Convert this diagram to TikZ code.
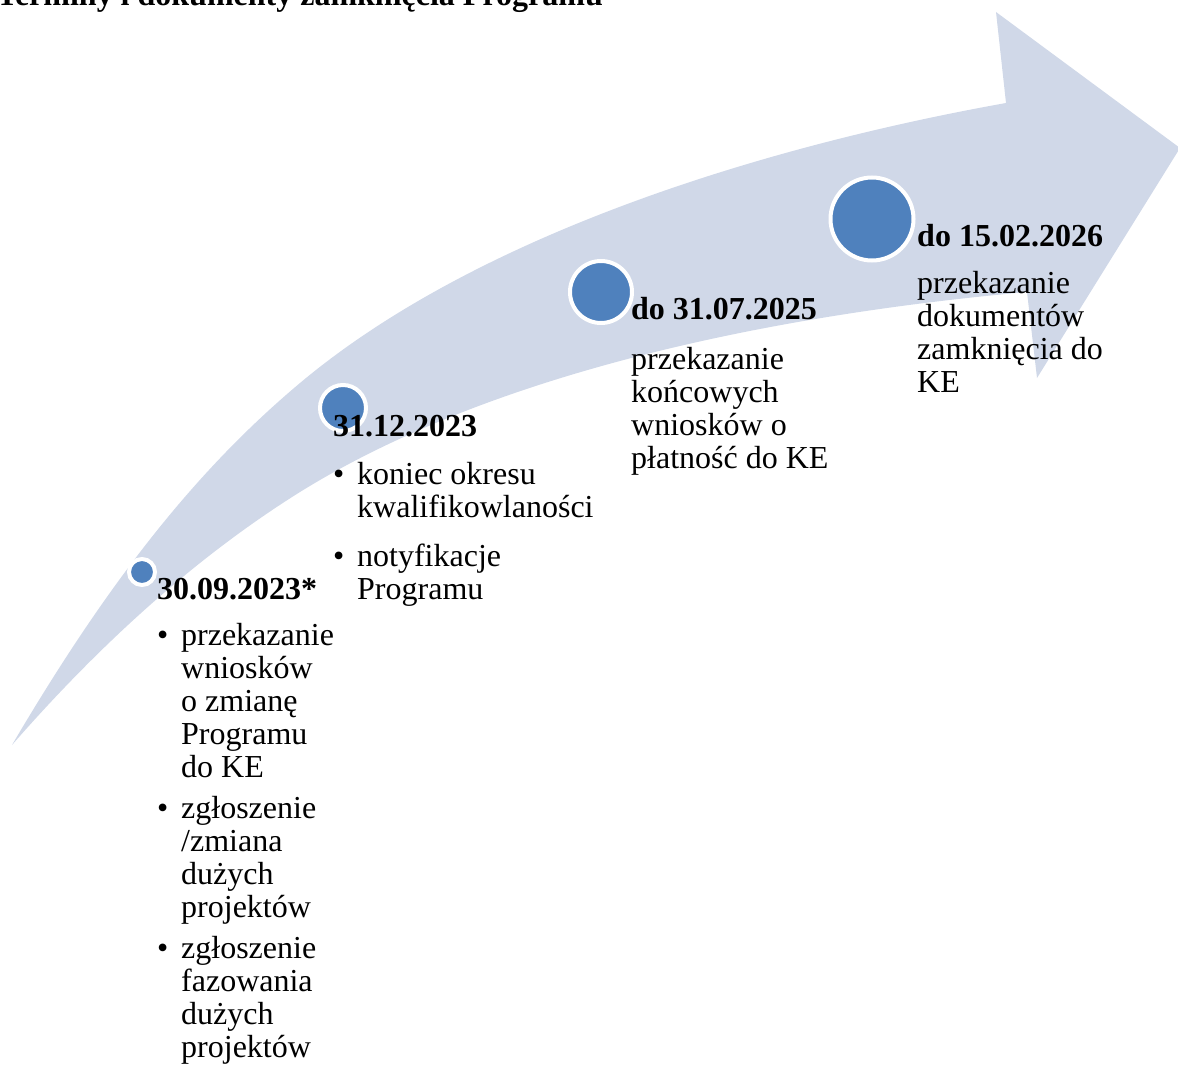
\documentclass[tikz,border=0pt]{standalone}
\usepackage{fontspec}
\setmainfont{Liberation Serif}
\definecolor{band}{HTML}{D0D8E8}
\definecolor{dotblue}{HTML}{4F81BD}
\tikzset{
  milestone/.style={circle, fill=dotblue, draw=white, line width=4pt, inner sep=0pt, minimum size=#1},
  datelabel/.style={anchor=base west, inner sep=0pt, font=\fontsize{32}{33}\selectfont\bfseries},
  bodytext/.style={anchor=base west, inner sep=0pt, font=\fontsize{32}{33}\selectfont},
}
\newcommand{\bul}{\makebox[24pt][l]{\textbullet}}
\begin{document}
\begin{tikzpicture}[x=1pt,y=-1pt]
\useasboundingbox (0,0) rectangle (1178,1065);
% curved arrow
\fill[band] (12,745) .. controls (112,575) and (200,467) .. (300,383)
  .. controls (480,232) and (771,145) .. (1006,103)
  -- (996,12) -- (1180,148) -- (1037,378) -- (1027,292)
  .. controls (787,313.6) and (500,368) .. (300,492)
  .. controls (204,552) and (108,635) .. (12,745) -- cycle;
% milestones
\node[milestone=26pt] (m1) at (142,572) {};
\node[milestone=46pt] (m2) at (343,408) {};
\node[milestone=62pt] (m3) at (601,292) {};
\node[milestone=83pt] (m4) at (872,219) {};
% heading
\node[datelabel, anchor=base east] (title) at (603,5.5) {Terminy i dokumenty zamknięcia Programu};
% dates
\node[datelabel] (d1) at (157,599) {30.09.2023*};
\node[datelabel] (d2) at (333,436) {31.12.2023};
\node[datelabel] (d3) at (631,319) {do 31.07.2025};
\node[datelabel] (d4) at (917,246) {do 15.02.2026};
% descriptions
\node[bodytext] (t1) at (157,645) {\begin{tabular}[t]{@{}l@{}l@{}}
\bul & przekazanie\\ & wniosków\\ & o zmianę\\ & Programu\\ & do KE\\[8pt]
\bul & zgłoszenie\\ & /zmiana\\ & dużych\\ & projektów\\[8pt]
\bul & zgłoszenie\\ & fazowania\\ & dużych\\ & projektów
\end{tabular}};
\node[bodytext] (t2) at (333,484) {\begin{tabular}[t]{@{}l@{}l@{}}
\bul & koniec okresu\\ & kwalifikowlaności\\[16pt]
\bul & notyfikacje\\ & Programu
\end{tabular}};
\node[bodytext] (t3) at (631,369) {\begin{tabular}[t]{@{}l@{}}
przekazanie\\ końcowych\\ wniosków o\\ płatność do KE
\end{tabular}};
\node[bodytext] (t4) at (917,293) {\begin{tabular}[t]{@{}l@{}}
przekazanie\\ dokumentów\\ zamknięcia do\\ KE
\end{tabular}};
\end{tikzpicture}
\end{document}
